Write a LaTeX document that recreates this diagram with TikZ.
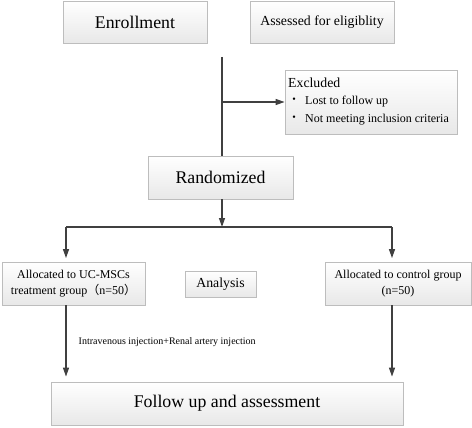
\documentclass[tikz,border=0pt]{standalone}
\usepackage{fontspec}
\setmainfont{Liberation Serif}
\newfontfamily\cjk{Noto Sans CJK SC}
\usetikzlibrary{arrows.meta,shadows}
\definecolor{linegray}{HTML}{404040}
\definecolor{boxline}{HTML}{BDBDBD}
\tikzset{
  box/.style={draw=boxline, line width=0.8pt, top color=white, bottom color=black!9,
    drop shadow={shadow xshift=1.2pt, shadow yshift=-1.2pt, fill=black!22, opacity=0.6},
    inner sep=0pt, anchor=center},
  big/.style={font=\fontsize{17.8}{20}\selectfont},
  mid/.style={font=\fontsize{13.8}{16}\selectfont},
  small/.style={font=\fontsize{12}{16}\selectfont},
  bul/.style={font=\fontsize{10}{10}\selectfont, anchor=center, inner sep=0pt},
  conn/.style={draw=linegray, line width=1.3pt},
  arr/.style={conn, -{Triangle[length=9pt,width=6pt]}},
}
\begin{document}
\begin{tikzpicture}[x=1pt,y=-1pt]
\useasboundingbox (0,0) rectangle (472,428);
\node[box,big,minimum width=144pt,minimum height=42pt] (enr) at (135,22) {Enrollment};
\node[box,mid,minimum width=144pt,minimum height=42pt] (ass) at (322,22) {Assessed for eligiblity};
\node[box,minimum width=172pt,minimum height=64pt] (excl) at (371,102) {};
\node[mid,anchor=west,inner sep=0pt] (exclt) at (288,83) {Excluded};
\node[bul] (b1) at (294,100.5) {•};
\node[small,anchor=west,inner sep=0pt] (l1) at (305,102) {Lost to follow up};
\node[bul] (b2) at (294,118.5) {•};
\node[small,anchor=west,inner sep=0pt] (l2) at (305,120) {Not meeting inclusion criteria};
\node[box,big,minimum width=145pt,minimum height=43pt] (rand) at (220.5,177.5) {Randomized};
\node[box,small,align=center,minimum width=143pt,minimum height=43pt] (left) at (73.5,283.5) {Allocated to UC-MSCs\\treatment group{\cjk（}n=50{\cjk）}};
\node[box,mid,minimum width=71pt,minimum height=26pt] (ana) at (220.5,284) {Analysis};
\node[box,small,align=center,minimum width=146pt,minimum height=43pt] (right) at (398,283.5) {Allocated to control group\\(n=50)};
\node[box,big,minimum width=352pt,minimum height=43pt] (fol) at (227,403.5) {Follow up and assessment};
\node[anchor=west,inner sep=0pt,font=\fontsize{10}{12}\selectfont] (inj) at (78.5,342) {Intravenous injection+Renal artery injection};
\coordinate (top) at (222,57);
\coordinate (jc) at (222,227);
\coordinate (jl) at (66,227);
\coordinate (jr) at (392,227);
\draw[conn] (top) -- (top |- rand.north);
\draw[arr] (top |- excl.west) -- (excl.west);
\draw[arr] (jc |- rand.south) -- (jc);
\draw[conn] (jl) -- (jr);
\draw[arr, shorten >=3.5pt] (jl) -- (jl |- left.north);
\draw[arr, shorten >=3.5pt] (jr) -- (jr |- right.north);
\draw[arr, shorten >=5pt] (jl |- left.south) -- (jl |- fol.north);
\draw[arr, shorten >=5pt] (jr |- right.south) -- (jr |- fol.north);
\end{tikzpicture}
\end{document}
